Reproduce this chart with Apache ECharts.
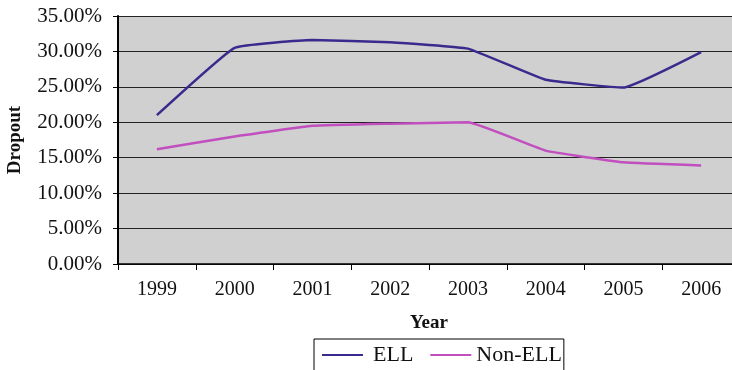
<!DOCTYPE html>
<html>
<head>
<meta charset="utf-8">
<script src="https://cdn.jsdelivr.net/npm/echarts@6/dist/echarts.min.js"></script>
<style>html,body{margin:0;padding:0;background:#fff;}#c{width:732px;height:370px;}</style>
</head>
<body>
<div id="c"></div>
<script>
var years = ['1999','2000','2001','2002','2003','2004','2005','2006'];
var ell = [21.0, 30.5, 31.6, 31.3, 30.4, 26.0, 24.9, 29.9];
var nonEll = [16.2, 18.0, 19.5, 19.8, 20.0, 16.0, 14.35, 13.9];
var yTicks = [0, 5, 10, 15, 20, 25, 30, 35];

var font = 'Liberation Serif';
var chart = echarts.init(document.getElementById('c'));
chart.setOption({
  animation: false,
  grid: { left: 118, right: -8, top: 16, bottom: 106, show: true, backgroundColor: '#cfd0cf', borderWidth: 0, outerBoundsMode: 'none', containLabel: false },
  legend: {
    left: 314, top: 339,
    data: [{ name: 'ELL', textStyle: { padding: [0, 0, 0, 5] } }, { name: 'Non-ELL' }],
    icon: 'rect', itemWidth: 41, itemHeight: 2, itemGap: 17,
    borderColor: '#000', borderWidth: 1, padding: [5, 2, 12, 8],
    textStyle: { fontFamily: font, fontSize: 22, color: '#111' }
  },
  xAxis: {
    type: 'category', data: years, boundaryGap: true,
    name: 'Year', nameLocation: 'middle', nameGap: 50,
    nameTextStyle: { fontFamily: font, fontSize: 19, fontWeight: 'bold', color: '#111' },
    axisLine: { lineStyle: { color: '#000', width: 1.5 } },
    axisTick: { show: true, length: 6, lineStyle: { color: '#000' } },
    axisLabel: { fontFamily: font, fontSize: 20, color: '#111', margin: 16 }
  },
  yAxis: {
    type: 'value', min: 0, max: 35, interval: 5,
    name: 'Dropout', nameLocation: 'middle', nameGap: 93,
    nameTextStyle: { fontFamily: font, fontSize: 19, fontWeight: 'bold', color: '#111' },
    axisLine: { show: true, lineStyle: { color: '#000', width: 2 } },
    axisTick: { show: true, length: 5, lineStyle: { color: '#000' } },
    splitLine: { show: true, lineStyle: { color: '#222', width: 1.2 } },
    axisLabel: { fontFamily: font, fontSize: 21, color: '#111', margin: 16,
      formatter: function (v) { return yTicks.indexOf(v) >= 0 ? v.toFixed(2) + '%' : ''; } }
  },
  series: [
    { name: 'ELL', type: 'line', data: ell, smooth: 0.1, showSymbol: false, symbol: 'none',
      lineStyle: { color: '#3b2a8e', width: 2.5 }, itemStyle: { color: '#3b2a8e' } },
    { name: 'Non-ELL', type: 'line', data: nonEll, smooth: 0.1, showSymbol: false, symbol: 'none',
      lineStyle: { color: '#c24fbf', width: 2.5 }, itemStyle: { color: '#c24fbf' } }
  ]
});
</script>
</body>
</html>
